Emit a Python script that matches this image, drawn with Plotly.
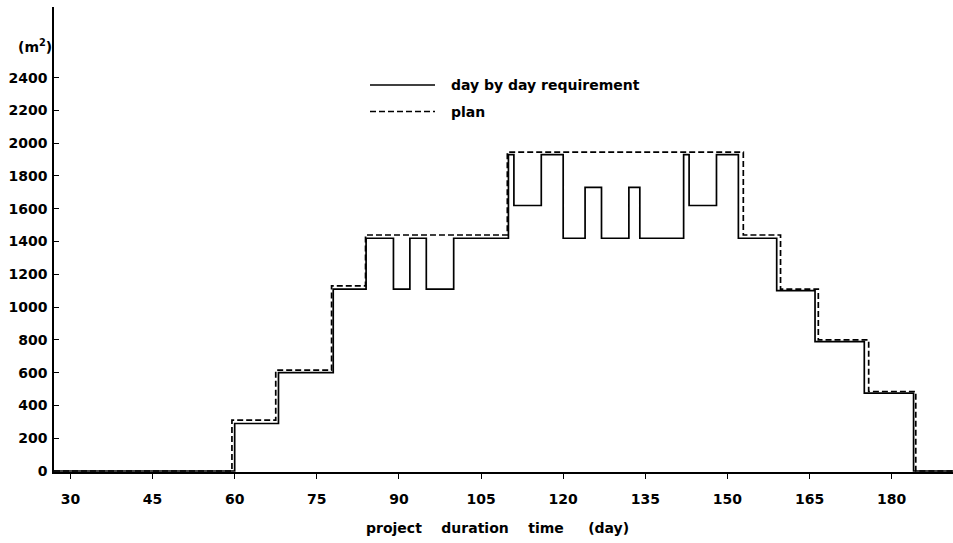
import plotly.graph_objects as go

# day-by-day requirement (step changes: value holds from day until next day)
req_days = [27, 60, 68, 78, 84, 89, 92, 95, 100, 110, 111, 116, 120, 124, 127,
            132, 134, 142, 143, 148, 152, 159, 166, 175, 184, 191.5]
req_values = [0, 290, 600, 1110, 1420, 1110, 1420, 1110, 1420, 1930, 1620, 1930,
              1420, 1730, 1420, 1730, 1420, 1930, 1620, 1930, 1420, 1100, 790,
              475, 0, 0]

# plan
plan_days = [27, 59.5, 67.5, 77.7, 83.9, 109.8, 152.9, 159.7, 166.6, 175.8, 184.4, 191.5]
plan_values = [0, 310, 615, 1130, 1440, 1945, 1440, 1110, 800, 485, 0, 0]

x_ticks = [30, 45, 60, 75, 90, 105, 120, 135, 150, 165, 180]
y_ticks = [0, 200, 400, 600, 800, 1000, 1200, 1400, 1600, 1800, 2000, 2200, 2400]

FONT = "DejaVu Sans"

fig = go.Figure()
fig.add_trace(go.Scatter(x=req_days, y=req_values, mode="lines", line_shape="hv",
                         line=dict(color="black", width=1.7),
                         name="day by day requirement", showlegend=False))
fig.add_trace(go.Scatter(x=plan_days, y=plan_values, mode="lines", line_shape="hv",
                         line=dict(color="black", width=1.7, dash="6px,3px"),
                         name="plan", showlegend=False))

# legend drawn manually (long line samples)
L = 54; W = 899; T = 7; H = 465
def px(xp): return (xp - L) / W
def py(yp): return 1 - (yp - T) / H

for ypix, dash, label in [(85, "solid", "day by day requirement"), (111.5, "6px,3px", "plan")]:
    fig.add_shape(type="line", xref="paper", yref="paper",
                  x0=px(370), x1=px(435), y0=py(ypix), y1=py(ypix),
                  line=dict(color="black", width=1.4, dash=dash))
    fig.add_annotation(xref="paper", yref="paper", x=px(449), y=py(ypix),
                       text=label, showarrow=False, xanchor="left", yanchor="middle",
                       font=dict(family=FONT, size=14, color="black", weight="bold"))

fig.add_annotation(xref="paper", yref="paper", x=px(54), y=py(46),
                   text="(m<sup>2</sup>)", showarrow=False, xanchor="right", yanchor="middle",
                   font=dict(family=FONT, size=14, color="black", weight="bold"))

nb = "\u00a0"
fig.add_annotation(xref="paper", yref="paper", x=px(497), y=0, yshift=-56,
                   text=f"project{nb*4}duration{nb*4}time{nb*5}(day)",
                   showarrow=False, xanchor="center", yanchor="middle",
                   font=dict(family=FONT, size=14, color="black", weight="bold"))

fig.update_layout(
    width=953, height=543,
    margin=dict(l=L, r=0, t=T, b=543 - T - H, autoexpand=False),
    paper_bgcolor="white", plot_bgcolor="white",
    font=dict(family=FONT, size=14, color="black", weight="bold"),
    xaxis=dict(range=[27, 191.2], tickvals=x_ticks, ticks="outside", ticklen=5,
               tickwidth=1.2, tickcolor="black", showline=True, linecolor="black",
               linewidth=1.5, showgrid=False, zeroline=False, ticklabelstandoff=8,
               automargin=False),
    yaxis=dict(range=[-6, 2831], tickvals=y_ticks, ticks="inside", ticklen=5,
               tickwidth=1.2, tickcolor="black", showline=True, linecolor="black",
               linewidth=1.5, showgrid=False, zeroline=False, ticklabelstandoff=2,
               automargin=False),
)

fig.write_html("out.html", config={"displayModeBar": False},
               post_script="document.body.style.margin='0';document.body.style.overflow='hidden';")
